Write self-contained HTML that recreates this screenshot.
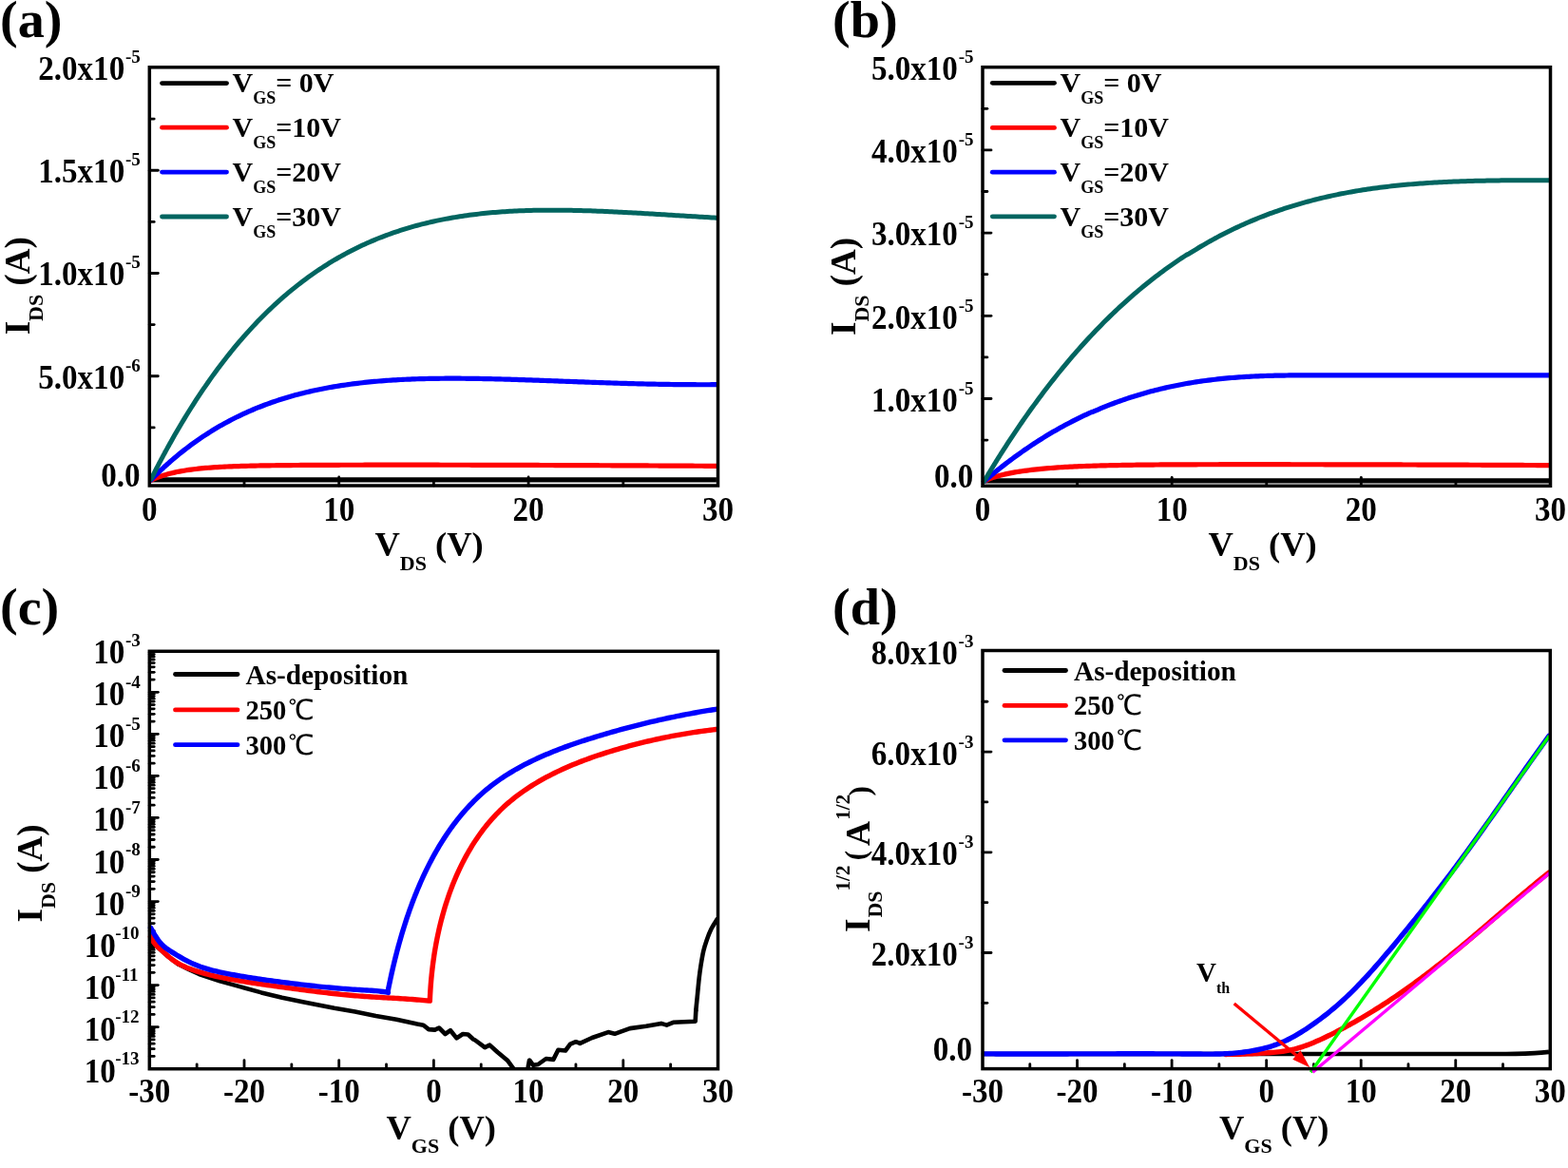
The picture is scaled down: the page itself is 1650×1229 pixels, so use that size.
<!DOCTYPE html>
<html><head><meta charset="utf-8"><title>TFT characteristics</title>
<style>html,body{margin:0;padding:0;background:#fff;overflow:hidden;}svg{display:block;}</style>
</head><body>
<svg width="1650" height="1229" viewBox="0 0 1650 1229" font-family='"Liberation Serif", "Times New Roman", serif' font-weight="bold">
<rect width="100%" height="100%" fill="#fff"/>
<text transform="translate(0 39) scale(1.04 1)" font-size="54" text-anchor="start">(a)</text>
<text transform="translate(876 39) scale(1.04 1)" font-size="54" text-anchor="start">(b)</text>
<text transform="translate(0 657) scale(1.04 1)" font-size="54" text-anchor="start">(c)</text>
<text transform="translate(876 657) scale(1.04 1)" font-size="54" text-anchor="start">(d)</text>
<line x1="356.7" y1="511" x2="356.7" y2="502" stroke="#000" stroke-width="2.8" stroke-linecap="round"/>
<line x1="556.1" y1="511" x2="556.1" y2="502" stroke="#000" stroke-width="2.8" stroke-linecap="round"/>
<line x1="257" y1="511" x2="257" y2="506.1" stroke="#000" stroke-width="2.8" stroke-linecap="round"/>
<line x1="456.4" y1="511" x2="456.4" y2="506.1" stroke="#000" stroke-width="2.8" stroke-linecap="round"/>
<line x1="655.8" y1="511" x2="655.8" y2="506.1" stroke="#000" stroke-width="2.8" stroke-linecap="round"/>
<line x1="157.3" y1="395.75" x2="166.3" y2="395.75" stroke="#000" stroke-width="2.8" stroke-linecap="round"/>
<line x1="157.3" y1="287.5" x2="166.3" y2="287.5" stroke="#000" stroke-width="2.8" stroke-linecap="round"/>
<line x1="157.3" y1="179.25" x2="166.3" y2="179.25" stroke="#000" stroke-width="2.8" stroke-linecap="round"/>
<line x1="157.3" y1="449.88" x2="162.2" y2="449.88" stroke="#000" stroke-width="2.8" stroke-linecap="round"/>
<line x1="157.3" y1="341.62" x2="162.2" y2="341.62" stroke="#000" stroke-width="2.8" stroke-linecap="round"/>
<line x1="157.3" y1="233.38" x2="162.2" y2="233.38" stroke="#000" stroke-width="2.8" stroke-linecap="round"/>
<line x1="157.3" y1="125.12" x2="162.2" y2="125.12" stroke="#000" stroke-width="2.8" stroke-linecap="round"/>
<text transform="translate(157.3 547.6) scale(0.94 1)" font-size="35.2" text-anchor="middle">0</text>
<text transform="translate(356.7 547.6) scale(0.94 1)" font-size="35.2" text-anchor="middle">10</text>
<text transform="translate(556.1 547.6) scale(0.94 1)" font-size="35.2" text-anchor="middle">20</text>
<text transform="translate(755.5 547.6) scale(0.94 1)" font-size="35.2" text-anchor="middle">30</text>
<text transform="translate(131.2 83.5) scale(0.94 1)" font-size="35.2" text-anchor="end">2.0x10</text>
<text x="132" y="65.5" font-size="19" text-anchor="start">-5</text>
<text transform="translate(131.2 191.5) scale(0.94 1)" font-size="35.2" text-anchor="end">1.5x10</text>
<text x="132" y="173.5" font-size="19" text-anchor="start">-5</text>
<text transform="translate(131.2 299.7) scale(0.94 1)" font-size="35.2" text-anchor="end">1.0x10</text>
<text x="132" y="281.7" font-size="19" text-anchor="start">-5</text>
<text transform="translate(131.2 408.5) scale(0.94 1)" font-size="35.2" text-anchor="end">5.0x10</text>
<text x="132" y="390.5" font-size="19" text-anchor="start">-6</text>
<text transform="translate(147.6 512.2) scale(0.94 1)" font-size="35.2" text-anchor="end">0.0</text>
<text x="394.5" y="585.2" font-size="36.5">V<tspan font-size="22" dy="15">DS</tspan><tspan dy="-15"> (V)</tspan></text>
<text transform="translate(30.8 352.3) rotate(-90)" font-size="37">I<tspan font-size="22" dy="14">DS</tspan><tspan dy="-14"> (A)</tspan></text>
<path d="M158.8 504.9L753.9 504.9" fill="none" stroke="#000" stroke-width="5.2" stroke-linejoin="round" stroke-linecap="butt"/>
<path d="M158.8 505.3L159.8 504.84L160.8 504.4L161.3 504.18L161.8 503.97L162.8 503.55L163.8 503.15L163.8 503.15L164.8 502.75L165.8 502.37L166.3 502.18L166.8 502L167.8 501.64L168.8 501.29L168.8 501.29L169.8 500.95L170.8 500.62L171.3 500.46L171.8 500.3L172.8 499.99L173.8 499.69L173.8 499.69L174.8 499.4L175.8 499.11L176.3 498.97L176.8 498.84L177.8 498.57L178.8 498.31L178.8 498.31L181.3 497.69L183.8 497.12L186.3 496.58L188.81 496.09L191.31 495.63L193.81 495.2L196.31 494.8L198.81 494.43L201.31 494.08L203.81 493.76L206.31 493.47L208.81 493.19L211.31 492.93L213.81 492.69L216.31 492.46L218.81 492.26L221.31 492.06L223.81 491.88L226.31 491.71L228.81 491.55L231.31 491.4L233.81 491.27L236.31 491.14L238.81 491.02L241.31 490.91L243.81 490.8L246.31 490.71L248.82 490.61L251.32 490.53L253.82 490.45L256.32 490.37L258.82 490.3L261.32 490.24L263.82 490.18L266.32 490.12L268.82 490.06L271.32 490.01L273.82 489.96L276.32 489.92L278.82 489.88L281.32 489.84L283.82 489.8L286.32 489.76L288.82 489.73L291.32 489.7L293.82 489.67L296.32 489.64L298.82 489.61L301.32 489.59L303.82 489.57L306.32 489.54L308.83 489.52L311.33 489.5L313.83 489.48L316.33 489.47L318.83 489.45L321.33 489.43L323.83 489.42L326.33 489.4L328.83 489.39L331.33 489.38L333.83 489.36L336.33 489.35L338.83 489.34L341.33 489.33L343.83 489.32L346.33 489.31L348.83 489.3L351.33 489.3L353.83 489.29L356.33 489.28L358.83 489.27L361.33 489.27L363.83 489.26L366.33 489.25L368.84 489.25L371.34 489.24L373.84 489.24L376.34 489.23L378.84 489.23L381.34 489.23L383.84 489.22L386.34 489.22L388.84 489.22L391.34 489.21L393.84 489.21L396.34 489.21L398.84 489.21L401.34 489.2L403.84 489.2L406.34 489.2L408.84 489.2L411.34 489.2L413.84 489.2L416.34 489.2L418.84 489.2L421.34 489.2L423.84 489.2L426.34 489.2L428.85 489.2L431.35 489.2L433.85 489.2L436.35 489.2L438.85 489.2L441.35 489.2L443.85 489.21L446.35 489.21L448.85 489.21L451.35 489.21L453.85 489.21L456.35 489.22L458.85 489.22L461.35 489.22L463.85 489.23L466.35 489.23L468.85 489.23L471.35 489.24L473.85 489.24L476.35 489.24L478.85 489.25L481.35 489.25L483.85 489.26L486.36 489.26L488.86 489.26L491.36 489.27L493.86 489.27L496.36 489.28L498.86 489.28L501.36 489.29L503.86 489.29L506.36 489.3L508.86 489.31L511.36 489.31L513.86 489.32L516.36 489.32L518.86 489.33L521.36 489.34L523.86 489.34L526.36 489.35L528.86 489.36L531.36 489.36L533.86 489.37L536.36 489.38L538.86 489.38L541.36 489.39L543.86 489.4L546.37 489.41L548.87 489.41L551.37 489.42L553.87 489.43L556.37 489.44L558.87 489.45L561.37 489.45L563.87 489.46L566.37 489.47L568.87 489.48L571.37 489.49L573.87 489.5L576.37 489.51L578.87 489.52L581.37 489.52L583.87 489.53L586.37 489.54L588.87 489.55L591.37 489.56L593.87 489.57L596.37 489.58L598.87 489.59L601.37 489.6L603.87 489.61L606.38 489.62L608.88 489.63L611.38 489.64L613.88 489.65L616.38 489.66L618.88 489.67L621.38 489.68L623.88 489.69L626.38 489.71L628.88 489.72L631.38 489.73L633.88 489.74L636.38 489.75L638.88 489.76L641.38 489.77L643.88 489.78L646.38 489.8L648.88 489.81L651.38 489.82L653.88 489.83L656.38 489.84L658.88 489.85L661.38 489.87L663.88 489.88L666.39 489.89L668.89 489.9L671.39 489.91L673.89 489.93L676.39 489.94L678.89 489.95L681.39 489.96L683.89 489.98L686.39 489.99L688.89 490L691.39 490.01L693.89 490.03L696.39 490.04L698.89 490.05L701.39 490.07L703.89 490.08L706.39 490.09L708.89 490.11L711.39 490.12L713.89 490.13L716.39 490.15L718.89 490.16L721.39 490.17L723.89 490.19L726.4 490.2L728.9 490.21L731.4 490.23L733.9 490.24L736.4 490.25L738.9 490.27L741.4 490.28L743.9 490.29L746.4 490.31L748.9 490.32L751.4 490.34L753.9 490.35" fill="none" stroke="#ff0000" stroke-width="5.2" stroke-linejoin="round" stroke-linecap="round"/>
<path d="M158.8 505L159.8 503.98L160.8 502.98L161.3 502.47L161.8 501.97L162.8 500.98L163.8 499.99L163.8 499.99L164.8 499.02L165.8 498.04L166.3 497.56L166.8 497.08L167.8 496.12L168.8 495.17L168.8 495.17L169.8 494.23L170.8 493.29L171.3 492.83L171.8 492.37L172.8 491.44L173.8 490.53L173.8 490.53L174.8 489.62L175.8 488.72L176.3 488.27L176.8 487.83L177.8 486.94L178.8 486.06L178.8 486.06L181.3 483.88L183.8 481.75L186.3 479.66L188.81 477.61L191.31 475.6L193.81 473.63L196.31 471.7L198.81 469.81L201.31 467.95L203.81 466.13L206.31 464.34L208.81 462.59L211.31 460.88L213.81 459.2L216.31 457.55L218.81 455.94L221.31 454.36L223.81 452.81L226.31 451.3L228.81 449.82L231.31 448.36L233.81 446.94L236.31 445.55L238.81 444.18L241.31 442.85L243.81 441.55L246.31 440.27L248.82 439.02L251.32 437.8L253.82 436.6L256.32 435.43L258.82 434.29L261.32 433.17L263.82 432.08L266.32 431.01L268.82 429.97L271.32 428.95L273.82 427.96L276.32 426.98L278.82 426.04L281.32 425.11L283.82 424.2L286.32 423.32L288.82 422.46L291.32 421.62L293.82 420.8L296.32 420L298.82 419.22L301.32 418.46L303.82 417.72L306.32 417L308.83 416.29L311.33 415.61L313.83 414.94L316.33 414.29L318.83 413.66L321.33 413.05L323.83 412.45L326.33 411.87L328.83 411.3L331.33 410.75L333.83 410.22L336.33 409.7L338.83 409.2L341.33 408.71L343.83 408.24L346.33 407.78L348.83 407.33L351.33 406.9L353.83 406.49L356.33 406.08L358.83 405.69L361.33 405.31L363.83 404.95L366.33 404.59L368.84 404.25L371.34 403.92L373.84 403.61L376.34 403.3L378.84 403.01L381.34 402.72L383.84 402.45L386.34 402.19L388.84 401.93L391.34 401.69L393.84 401.46L396.34 401.24L398.84 401.02L401.34 400.82L403.84 400.63L406.34 400.44L408.84 400.27L411.34 400.1L413.84 399.94L416.34 399.79L418.84 399.64L421.34 399.51L423.84 399.38L426.34 399.26L428.85 399.15L431.35 399.04L433.85 398.94L436.35 398.85L438.85 398.77L441.35 398.69L443.85 398.62L446.35 398.55L448.85 398.49L451.35 398.44L453.85 398.39L456.35 398.35L458.85 398.31L461.35 398.28L463.85 398.26L466.35 398.24L468.85 398.22L471.35 398.21L473.85 398.2L476.35 398.2L478.85 398.21L481.35 398.21L483.85 398.22L486.36 398.24L488.86 398.26L491.36 398.28L493.86 398.31L496.36 398.34L498.86 398.37L501.36 398.41L503.86 398.45L506.36 398.49L508.86 398.54L511.36 398.59L513.86 398.64L516.36 398.7L518.86 398.76L521.36 398.82L523.86 398.88L526.36 398.94L528.86 399.01L531.36 399.08L533.86 399.15L536.36 399.22L538.86 399.3L541.36 399.37L543.86 399.45L546.37 399.53L548.87 399.61L551.37 399.7L553.87 399.78L556.37 399.86L558.87 399.95L561.37 400.04L563.87 400.12L566.37 400.21L568.87 400.3L571.37 400.39L573.87 400.48L576.37 400.58L578.87 400.67L581.37 400.76L583.87 400.85L586.37 400.95L588.87 401.04L591.37 401.13L593.87 401.23L596.37 401.32L598.87 401.41L601.37 401.5L603.87 401.6L606.38 401.69L608.88 401.78L611.38 401.87L613.88 401.96L616.38 402.06L618.88 402.15L621.38 402.23L623.88 402.32L626.38 402.41L628.88 402.5L631.38 402.58L633.88 402.67L636.38 402.75L638.88 402.84L641.38 402.92L643.88 403L646.38 403.08L648.88 403.16L651.38 403.23L653.88 403.31L656.38 403.38L658.88 403.46L661.38 403.53L663.88 403.6L666.39 403.67L668.89 403.73L671.39 403.8L673.89 403.86L676.39 403.92L678.89 403.98L681.39 404.04L683.89 404.09L686.39 404.15L688.89 404.2L691.39 404.25L693.89 404.29L696.39 404.34L698.89 404.38L701.39 404.42L703.89 404.46L706.39 404.5L708.89 404.53L711.39 404.56L713.89 404.59L716.39 404.62L718.89 404.64L721.39 404.66L723.89 404.68L726.4 404.7L728.9 404.71L731.4 404.72L733.9 404.73L736.4 404.74L738.9 404.74L741.4 404.74L743.9 404.74L746.4 404.73L748.9 404.72L751.4 404.71L753.9 404.7" fill="none" stroke="#0000ff" stroke-width="5.2" stroke-linejoin="round" stroke-linecap="round"/>
<path d="M158.8 504.5L159.8 502.51L160.8 500.53L161.3 499.54L161.8 498.56L162.8 496.6L163.8 494.65L163.8 494.65L164.8 492.72L165.8 490.79L166.3 489.83L166.8 488.87L167.8 486.96L168.8 485.07L168.8 485.07L169.8 483.18L170.8 481.31L171.3 480.37L171.8 479.44L172.8 477.58L173.8 475.74L173.8 475.73L174.8 473.9L175.8 472.08L176.3 471.16L176.8 470.26L177.8 468.46L178.8 466.66L178.8 466.65L181.3 462.21L183.8 457.82L186.3 453.49L188.81 449.23L191.31 445.02L193.81 440.87L196.31 436.78L198.81 432.74L201.31 428.77L203.81 424.84L206.31 420.98L208.81 417.17L211.31 413.41L213.81 409.7L216.31 406.05L218.81 402.45L221.31 398.91L223.81 395.41L226.31 391.97L228.81 388.58L231.31 385.23L233.81 381.94L236.31 378.69L238.81 375.5L241.31 372.35L243.81 369.24L246.31 366.19L248.82 363.18L251.32 360.21L253.82 357.3L256.32 354.42L258.82 351.59L261.32 348.81L263.82 346.07L266.32 343.37L268.82 340.71L271.32 338.09L273.82 335.52L276.32 332.99L278.82 330.49L281.32 328.04L283.82 325.63L286.32 323.26L288.82 320.92L291.32 318.63L293.82 316.37L296.32 314.15L298.82 311.96L301.32 309.82L303.82 307.7L306.32 305.63L308.83 303.59L311.33 301.58L313.83 299.61L316.33 297.68L318.83 295.78L321.33 293.91L323.83 292.07L326.33 290.27L328.83 288.5L331.33 286.76L333.83 285.05L336.33 283.37L338.83 281.73L341.33 280.11L343.83 278.53L346.33 276.97L348.83 275.45L351.33 273.95L353.83 272.48L356.33 271.04L358.83 269.63L361.33 268.24L363.83 266.88L366.33 265.55L368.84 264.25L371.34 262.97L373.84 261.72L376.34 260.49L378.84 259.29L381.34 258.11L383.84 256.96L386.34 255.83L388.84 254.73L391.34 253.65L393.84 252.6L396.34 251.56L398.84 250.55L401.34 249.56L403.84 248.6L406.34 247.66L408.84 246.73L411.34 245.83L413.84 244.95L416.34 244.09L418.84 243.26L421.34 242.44L423.84 241.64L426.34 240.86L428.85 240.1L431.35 239.36L433.85 238.64L436.35 237.94L438.85 237.26L441.35 236.59L443.85 235.94L446.35 235.31L448.85 234.7L451.35 234.1L453.85 233.52L456.35 232.96L458.85 232.41L461.35 231.88L463.85 231.37L466.35 230.87L468.85 230.39L471.35 229.92L473.85 229.47L476.35 229.03L478.85 228.61L481.35 228.2L483.85 227.8L486.36 227.42L488.86 227.05L491.36 226.7L493.86 226.35L496.36 226.02L498.86 225.71L501.36 225.41L503.86 225.11L506.36 224.84L508.86 224.57L511.36 224.31L513.86 224.07L516.36 223.84L518.86 223.61L521.36 223.4L523.86 223.2L526.36 223.01L528.86 222.84L531.36 222.67L533.86 222.51L536.36 222.36L538.86 222.22L541.36 222.09L543.86 221.97L546.37 221.86L548.87 221.75L551.37 221.66L553.87 221.57L556.37 221.49L558.87 221.43L561.37 221.36L563.87 221.31L566.37 221.26L568.87 221.23L571.37 221.19L573.87 221.17L576.37 221.15L578.87 221.14L581.37 221.14L583.87 221.14L586.37 221.15L588.87 221.17L591.37 221.19L593.87 221.22L596.37 221.25L598.87 221.29L601.37 221.33L603.87 221.38L606.38 221.44L608.88 221.5L611.38 221.56L613.88 221.63L616.38 221.71L618.88 221.79L621.38 221.87L623.88 221.96L626.38 222.05L628.88 222.14L631.38 222.24L633.88 222.34L636.38 222.45L638.88 222.56L641.38 222.67L643.88 222.79L646.38 222.9L648.88 223.03L651.38 223.15L653.88 223.28L656.38 223.41L658.88 223.54L661.38 223.67L663.88 223.81L666.39 223.94L668.89 224.08L671.39 224.23L673.89 224.37L676.39 224.51L678.89 224.66L681.39 224.81L683.89 224.96L686.39 225.11L688.89 225.26L691.39 225.41L693.89 225.56L696.39 225.72L698.89 225.87L701.39 226.02L703.89 226.18L706.39 226.33L708.89 226.49L711.39 226.64L713.89 226.8L716.39 226.95L718.89 227.11L721.39 227.26L723.89 227.41L726.4 227.57L728.9 227.72L731.4 227.87L733.9 228.02L736.4 228.17L738.9 228.32L741.4 228.47L743.9 228.61L746.4 228.76L748.9 228.9L751.4 229.05L753.9 229.19" fill="none" stroke="#016560" stroke-width="5" stroke-linejoin="round" stroke-linecap="round"/>
<line x1="170.5" y1="87.6" x2="238.5" y2="87.6" stroke="#000" stroke-width="4.8" stroke-linecap="round"/>
<text x="244.5" y="97.3" font-size="30">V<tspan font-size="18" dy="12">GS</tspan><tspan dy="-12">= 0V</tspan></text>
<line x1="170.5" y1="134.2" x2="238.5" y2="134.2" stroke="#ff0000" stroke-width="4.8" stroke-linecap="round"/>
<text x="244.5" y="143.9" font-size="30">V<tspan font-size="18" dy="12">GS</tspan><tspan dy="-12">=10V</tspan></text>
<line x1="170.5" y1="181.1" x2="238.5" y2="181.1" stroke="#0000ff" stroke-width="4.8" stroke-linecap="round"/>
<text x="244.5" y="190.8" font-size="30">V<tspan font-size="18" dy="12">GS</tspan><tspan dy="-12">=20V</tspan></text>
<line x1="170.5" y1="228" x2="238.5" y2="228" stroke="#016560" stroke-width="4.8" stroke-linecap="round"/>
<text x="244.5" y="237.7" font-size="30">V<tspan font-size="18" dy="12">GS</tspan><tspan dy="-12">=30V</tspan></text>
<rect x="157.3" y="70.8" width="598.2" height="440.2" fill="none" stroke="#000" stroke-width="3.5"/>
<line x1="1233.17" y1="511.3" x2="1233.17" y2="502.3" stroke="#000" stroke-width="2.8" stroke-linecap="round"/>
<line x1="1432.33" y1="511.3" x2="1432.33" y2="502.3" stroke="#000" stroke-width="2.8" stroke-linecap="round"/>
<line x1="1133.58" y1="511.3" x2="1133.58" y2="506.4" stroke="#000" stroke-width="2.8" stroke-linecap="round"/>
<line x1="1332.75" y1="511.3" x2="1332.75" y2="506.4" stroke="#000" stroke-width="2.8" stroke-linecap="round"/>
<line x1="1531.92" y1="511.3" x2="1531.92" y2="506.4" stroke="#000" stroke-width="2.8" stroke-linecap="round"/>
<line x1="1034" y1="419.5" x2="1043" y2="419.5" stroke="#000" stroke-width="2.8" stroke-linecap="round"/>
<line x1="1034" y1="332.3" x2="1043" y2="332.3" stroke="#000" stroke-width="2.8" stroke-linecap="round"/>
<line x1="1034" y1="245.1" x2="1043" y2="245.1" stroke="#000" stroke-width="2.8" stroke-linecap="round"/>
<line x1="1034" y1="157.9" x2="1043" y2="157.9" stroke="#000" stroke-width="2.8" stroke-linecap="round"/>
<line x1="1034" y1="463.1" x2="1038.9" y2="463.1" stroke="#000" stroke-width="2.8" stroke-linecap="round"/>
<line x1="1034" y1="375.9" x2="1038.9" y2="375.9" stroke="#000" stroke-width="2.8" stroke-linecap="round"/>
<line x1="1034" y1="288.7" x2="1038.9" y2="288.7" stroke="#000" stroke-width="2.8" stroke-linecap="round"/>
<line x1="1034" y1="201.5" x2="1038.9" y2="201.5" stroke="#000" stroke-width="2.8" stroke-linecap="round"/>
<line x1="1034" y1="114.3" x2="1038.9" y2="114.3" stroke="#000" stroke-width="2.8" stroke-linecap="round"/>
<text transform="translate(1034 547.6) scale(0.94 1)" font-size="35.2" text-anchor="middle">0</text>
<text transform="translate(1233.17 547.6) scale(0.94 1)" font-size="35.2" text-anchor="middle">10</text>
<text transform="translate(1432.33 547.6) scale(0.94 1)" font-size="35.2" text-anchor="middle">20</text>
<text transform="translate(1631.5 547.6) scale(0.94 1)" font-size="35.2" text-anchor="middle">30</text>
<text transform="translate(1007.9 83.9) scale(0.94 1)" font-size="35.2" text-anchor="end">5.0x10</text>
<text x="1008.7" y="65.9" font-size="19" text-anchor="start">-5</text>
<text transform="translate(1007.9 171.1) scale(0.94 1)" font-size="35.2" text-anchor="end">4.0x10</text>
<text x="1008.7" y="153.1" font-size="19" text-anchor="start">-5</text>
<text transform="translate(1007.9 258.3) scale(0.94 1)" font-size="35.2" text-anchor="end">3.0x10</text>
<text x="1008.7" y="240.3" font-size="19" text-anchor="start">-5</text>
<text transform="translate(1007.9 345.5) scale(0.94 1)" font-size="35.2" text-anchor="end">2.0x10</text>
<text x="1008.7" y="327.5" font-size="19" text-anchor="start">-5</text>
<text transform="translate(1007.9 432.7) scale(0.94 1)" font-size="35.2" text-anchor="end">1.0x10</text>
<text x="1008.7" y="414.7" font-size="19" text-anchor="start">-5</text>
<text transform="translate(1024.3 512.6) scale(0.94 1)" font-size="35.2" text-anchor="end">0.0</text>
<text x="1271.5" y="585.2" font-size="36.5">V<tspan font-size="22" dy="15">DS</tspan><tspan dy="-15"> (V)</tspan></text>
<text transform="translate(900.3 353) rotate(-90)" font-size="37">I<tspan font-size="22" dy="14">DS</tspan><tspan dy="-14"> (A)</tspan></text>
<path d="M1035.5 505.9L1630 505.9" fill="none" stroke="#000" stroke-width="5.2" stroke-linejoin="round" stroke-linecap="butt"/>
<path d="M1035.5 506.5L1036.5 505.98L1037.5 505.48L1038.01 505.24L1038.5 505.01L1039.5 504.57L1040.5 504.14L1040.52 504.14L1041.5 503.74L1042.5 503.35L1043.03 503.16L1043.5 502.98L1044.5 502.63L1045.5 502.29L1045.53 502.28L1046.5 501.96L1047.5 501.65L1048.04 501.48L1048.5 501.34L1049.5 501.05L1050.5 500.77L1050.55 500.75L1051.5 500.49L1052.5 500.23L1053.06 500.08L1053.5 499.97L1054.5 499.72L1055.5 499.48L1055.57 499.47L1058.08 498.89L1060.58 498.35L1063.09 497.85L1065.6 497.38L1068.11 496.93L1070.62 496.51L1073.13 496.12L1075.64 495.74L1078.14 495.39L1080.65 495.05L1083.16 494.73L1085.67 494.42L1088.18 494.14L1090.69 493.86L1093.19 493.6L1095.7 493.36L1098.21 493.12L1100.72 492.9L1103.23 492.69L1105.74 492.48L1108.24 492.29L1110.75 492.11L1113.26 491.94L1115.77 491.77L1118.28 491.62L1120.79 491.47L1123.3 491.33L1125.8 491.19L1128.31 491.06L1130.82 490.94L1133.33 490.83L1135.84 490.72L1138.35 490.61L1140.85 490.51L1143.36 490.42L1145.87 490.33L1148.38 490.24L1150.89 490.16L1153.4 490.08L1155.91 490.01L1158.41 489.94L1160.92 489.87L1163.43 489.81L1165.94 489.75L1168.45 489.69L1170.96 489.64L1173.46 489.58L1175.97 489.53L1178.48 489.49L1180.99 489.44L1183.5 489.4L1186.01 489.36L1188.51 489.32L1191.02 489.29L1193.53 489.25L1196.04 489.22L1198.55 489.19L1201.06 489.16L1203.57 489.13L1206.07 489.1L1208.58 489.08L1211.09 489.05L1213.6 489.03L1216.11 489.01L1218.62 488.99L1221.12 488.97L1223.63 488.95L1226.14 488.93L1228.65 488.92L1231.16 488.9L1233.67 488.89L1236.18 488.87L1238.68 488.86L1241.19 488.85L1243.7 488.84L1246.21 488.83L1248.72 488.81L1251.23 488.8L1253.73 488.8L1256.24 488.79L1258.75 488.78L1261.26 488.77L1263.77 488.76L1266.28 488.76L1268.78 488.75L1271.29 488.75L1273.8 488.74L1276.31 488.74L1278.82 488.73L1281.33 488.73L1283.84 488.72L1286.34 488.72L1288.85 488.72L1291.36 488.71L1293.87 488.71L1296.38 488.71L1298.89 488.71L1301.39 488.71L1303.9 488.7L1306.41 488.7L1308.92 488.7L1311.43 488.7L1313.94 488.7L1316.45 488.7L1318.95 488.7L1321.46 488.7L1323.97 488.7L1326.48 488.7L1328.99 488.7L1331.5 488.7L1334 488.7L1336.51 488.71L1339.02 488.71L1341.53 488.71L1344.04 488.71L1346.55 488.71L1349.05 488.72L1351.56 488.72L1354.07 488.72L1356.58 488.72L1359.09 488.73L1361.6 488.73L1364.11 488.73L1366.61 488.73L1369.12 488.74L1371.63 488.74L1374.14 488.74L1376.65 488.75L1379.16 488.75L1381.66 488.76L1384.17 488.76L1386.68 488.76L1389.19 488.77L1391.7 488.77L1394.21 488.78L1396.72 488.78L1399.22 488.79L1401.73 488.79L1404.24 488.8L1406.75 488.8L1409.26 488.81L1411.77 488.81L1414.27 488.82L1416.78 488.82L1419.29 488.83L1421.8 488.83L1424.31 488.84L1426.82 488.84L1429.32 488.85L1431.83 488.86L1434.34 488.86L1436.85 488.87L1439.36 488.88L1441.87 488.88L1444.38 488.89L1446.88 488.89L1449.39 488.9L1451.9 488.91L1454.41 488.91L1456.92 488.92L1459.43 488.93L1461.93 488.94L1464.44 488.94L1466.95 488.95L1469.46 488.96L1471.97 488.96L1474.48 488.97L1476.99 488.98L1479.49 488.99L1482 488.99L1484.51 489L1487.02 489.01L1489.53 489.02L1492.04 489.03L1494.54 489.03L1497.05 489.04L1499.56 489.05L1502.07 489.06L1504.58 489.07L1507.09 489.08L1509.59 489.09L1512.1 489.09L1514.61 489.1L1517.12 489.11L1519.63 489.12L1522.14 489.13L1524.65 489.14L1527.15 489.15L1529.66 489.16L1532.17 489.17L1534.68 489.18L1537.19 489.19L1539.7 489.2L1542.2 489.21L1544.71 489.22L1547.22 489.23L1549.73 489.24L1552.24 489.25L1554.75 489.26L1557.26 489.27L1559.76 489.28L1562.27 489.29L1564.78 489.3L1567.29 489.31L1569.8 489.32L1572.31 489.33L1574.81 489.34L1577.32 489.35L1579.83 489.36L1582.34 489.37L1584.85 489.38L1587.36 489.4L1589.86 489.41L1592.37 489.42L1594.88 489.43L1597.39 489.44L1599.9 489.45L1602.41 489.46L1604.92 489.48L1607.42 489.49L1609.93 489.5L1612.44 489.51L1614.95 489.52L1617.46 489.54L1619.97 489.55L1622.47 489.56L1624.98 489.57L1627.49 489.59L1630 489.6" fill="none" stroke="#ff0000" stroke-width="5.2" stroke-linejoin="round" stroke-linecap="round"/>
<path d="M1035.5 506.5L1036.5 505.64L1037.5 504.79L1038.01 504.36L1038.5 503.94L1039.5 503.1L1040.5 502.26L1040.52 502.24L1041.5 501.42L1042.5 500.59L1043.03 500.15L1043.5 499.76L1044.5 498.94L1045.5 498.12L1045.53 498.09L1046.5 497.3L1047.5 496.49L1048.04 496.05L1048.5 495.68L1049.5 494.88L1050.5 494.08L1050.55 494.04L1051.5 493.28L1052.5 492.49L1053.06 492.05L1053.5 491.7L1054.5 490.92L1055.5 490.14L1055.57 490.08L1058.08 488.14L1060.58 486.23L1063.09 484.34L1065.6 482.47L1068.11 480.63L1070.62 478.81L1073.13 477.02L1075.64 475.25L1078.14 473.5L1080.65 471.78L1083.16 470.08L1085.67 468.41L1088.18 466.75L1090.69 465.12L1093.19 463.52L1095.7 461.94L1098.21 460.38L1100.72 458.84L1103.23 457.32L1105.74 455.83L1108.24 454.36L1110.75 452.91L1113.26 451.48L1115.77 450.08L1118.28 448.7L1120.79 447.33L1123.3 445.99L1125.8 444.68L1128.31 443.38L1130.82 442.1L1133.33 440.85L1135.84 439.61L1138.35 438.4L1140.85 437.21L1143.36 436.03L1145.87 434.88L1148.38 433.75L1150.89 432.95L1153.4 431.85L1155.91 430.78L1158.41 429.72L1160.92 428.69L1163.43 427.67L1165.94 426.67L1168.45 425.69L1170.96 424.73L1173.46 423.79L1175.97 422.87L1178.48 421.97L1180.99 421.08L1183.5 420.22L1186.01 419.37L1188.51 418.53L1191.02 417.72L1193.53 416.93L1196.04 416.15L1198.55 415.39L1201.06 414.64L1203.57 413.92L1206.07 413.21L1208.58 412.51L1211.09 411.83L1213.6 411.17L1216.11 410.53L1218.62 409.9L1221.12 409.29L1223.63 408.69L1226.14 408.11L1228.65 407.55L1231.16 407L1233.67 406.46L1236.18 405.94L1238.68 405.44L1241.19 404.94L1243.7 404.47L1246.21 404.01L1248.72 403.56L1251.23 403.12L1253.73 402.7L1256.24 402.3L1258.75 401.9L1261.26 401.52L1263.77 401.16L1266.28 400.8L1268.78 400.46L1271.29 400.13L1273.8 399.82L1276.31 399.51L1278.82 399.22L1281.33 398.94L1283.84 398.67L1286.34 398.42L1288.85 398.17L1291.36 397.93L1293.87 397.71L1296.38 397.5L1298.89 397.29L1301.39 397.1L1303.9 396.92L1306.41 396.74L1308.92 396.58L1311.43 396.43L1313.94 396.28L1316.45 396.14L1318.95 396.02L1321.46 395.9L1323.97 395.79L1326.48 395.68L1328.99 395.59L1331.5 395.5L1334 395.42L1336.51 395.35L1339.02 395.28L1341.53 395.22L1344.04 395.16L1346.55 395.11L1349.05 395.07L1351.56 395.03L1354.07 395L1356.58 394.97L1359.09 394.95L1361.6 394.92L1364.11 394.91L1366.61 394.89L1369.12 394.88L1371.63 394.87L1374.14 394.86L1376.65 394.86L1379.16 394.85L1381.66 394.85L1384.17 394.85L1386.68 394.85L1389.19 394.84L1391.7 394.84L1394.21 394.84L1396.72 394.84L1399.22 394.84L1401.73 394.84L1404.24 394.84L1406.75 394.84L1409.26 394.84L1411.77 394.84L1414.27 394.84L1416.78 394.84L1419.29 394.84L1421.8 394.84L1424.31 394.84L1426.82 394.84L1429.32 394.84L1431.83 394.84L1434.34 394.84L1436.85 394.84L1439.36 394.84L1441.87 394.84L1444.38 394.84L1446.88 394.84L1449.39 394.84L1451.9 394.84L1454.41 394.84L1456.92 394.84L1459.43 394.84L1461.93 394.84L1464.44 394.84L1466.95 394.84L1469.46 394.84L1471.97 394.84L1474.48 394.84L1476.99 394.84L1479.49 394.84L1482 394.84L1484.51 394.84L1487.02 394.84L1489.53 394.84L1492.04 394.84L1494.54 394.84L1497.05 394.84L1499.56 394.84L1502.07 394.84L1504.58 394.84L1507.09 394.84L1509.59 394.84L1512.1 394.84L1514.61 394.84L1517.12 394.84L1519.63 394.84L1522.14 394.84L1524.65 394.84L1527.15 394.84L1529.66 394.84L1532.17 394.84L1534.68 394.84L1537.19 394.84L1539.7 394.84L1542.2 394.84L1544.71 394.84L1547.22 394.84L1549.73 394.84L1552.24 394.84L1554.75 394.84L1557.26 394.84L1559.76 394.84L1562.27 394.84L1564.78 394.84L1567.29 394.84L1569.8 394.84L1572.31 394.84L1574.81 394.84L1577.32 394.84L1579.83 394.84L1582.34 394.84L1584.85 394.84L1587.36 394.84L1589.86 394.84L1592.37 394.84L1594.88 394.84L1597.39 394.84L1599.9 394.84L1602.41 394.84L1604.92 394.84L1607.42 394.84L1609.93 394.84L1612.44 394.84L1614.95 394.84L1617.46 394.84L1619.97 394.84L1622.47 394.84L1624.98 394.84L1627.49 394.84L1630 394.84" fill="none" stroke="#0000ff" stroke-width="5.2" stroke-linejoin="round" stroke-linecap="round"/>
<path d="M1035.5 506.5L1036.5 504.82L1037.5 503.15L1038.01 502.3L1038.5 501.48L1039.5 499.82L1040.5 498.16L1040.52 498.13L1041.5 496.51L1042.5 494.87L1043.03 494.01L1043.5 493.23L1044.5 491.6L1045.5 489.98L1045.53 489.92L1046.5 488.36L1047.5 486.75L1048.04 485.87L1048.5 485.14L1049.5 483.54L1050.5 481.94L1050.55 481.86L1051.5 480.35L1052.5 478.77L1053.06 477.89L1053.5 477.19L1054.5 475.62L1055.5 474.06L1055.57 473.95L1058.08 470.05L1060.58 466.19L1063.09 462.37L1065.6 458.58L1068.11 454.83L1070.62 451.11L1073.13 447.43L1075.64 443.79L1078.14 440.18L1080.65 436.6L1083.16 433.07L1085.67 429.56L1088.18 426.1L1090.69 422.66L1093.19 419.27L1095.7 415.9L1098.21 412.57L1100.72 409.27L1103.23 406.01L1105.74 402.78L1108.24 399.59L1110.75 396.43L1113.26 393.3L1115.77 390.2L1118.28 387.14L1120.79 384.1L1123.3 381.1L1125.8 378.14L1128.31 375.2L1130.82 372.3L1133.33 369.43L1135.84 366.58L1138.35 363.77L1140.85 360.99L1143.36 358.25L1145.87 355.53L1148.38 352.84L1150.89 350.18L1153.4 347.56L1155.91 344.96L1158.41 342.39L1160.92 339.85L1163.43 337.34L1165.94 334.86L1168.45 332.41L1170.96 329.99L1173.46 327.59L1175.97 325.23L1178.48 322.89L1180.99 320.58L1183.5 318.3L1186.01 316.04L1188.51 313.81L1191.02 311.61L1193.53 309.44L1196.04 307.29L1198.55 305.17L1201.06 303.08L1203.57 301.01L1206.07 298.97L1208.58 296.96L1211.09 294.97L1213.6 293.01L1216.11 291.07L1218.62 289.15L1221.12 287.27L1223.63 285.4L1226.14 283.56L1228.65 281.75L1231.16 279.96L1233.67 278.19L1236.18 276.45L1238.68 274.73L1241.19 273.04L1243.7 271.37L1246.21 269.72L1248.72 268.1L1251.23 266.96L1253.73 265.37L1256.24 263.81L1258.75 262.27L1261.26 260.76L1263.77 259.26L1266.28 257.79L1268.78 256.34L1271.29 254.91L1273.8 253.5L1276.31 252.12L1278.82 250.75L1281.33 249.41L1283.84 248.08L1286.34 246.78L1288.85 245.49L1291.36 244.23L1293.87 242.99L1296.38 241.76L1298.89 240.56L1301.39 239.37L1303.9 238.21L1306.41 237.06L1308.92 235.93L1311.43 234.82L1313.94 233.73L1316.45 232.66L1318.95 231.6L1321.46 230.57L1323.97 229.55L1326.48 228.55L1328.99 227.56L1331.5 226.6L1334 225.65L1336.51 224.71L1339.02 223.8L1341.53 222.9L1344.04 222.02L1346.55 221.15L1349.05 220.3L1351.56 219.47L1354.07 218.65L1356.58 217.85L1359.09 217.06L1361.6 216.29L1364.11 215.53L1366.61 214.79L1369.12 214.06L1371.63 213.35L1374.14 212.65L1376.65 211.97L1379.16 211.3L1381.66 210.65L1384.17 210L1386.68 209.38L1389.19 208.76L1391.7 208.16L1394.21 207.57L1396.72 207L1399.22 206.44L1401.73 205.89L1404.24 205.35L1406.75 204.83L1409.26 204.32L1411.77 203.82L1414.27 203.33L1416.78 202.85L1419.29 202.39L1421.8 201.93L1424.31 201.49L1426.82 201.06L1429.32 200.64L1431.83 200.23L1434.34 199.83L1436.85 199.45L1439.36 199.07L1441.87 198.7L1444.38 198.34L1446.88 198L1449.39 197.66L1451.9 197.33L1454.41 197.01L1456.92 196.7L1459.43 196.4L1461.93 196.11L1464.44 195.83L1466.95 195.55L1469.46 195.29L1471.97 195.03L1474.48 194.78L1476.99 194.54L1479.49 194.31L1482 194.08L1484.51 193.87L1487.02 193.66L1489.53 193.45L1492.04 193.26L1494.54 193.07L1497.05 192.89L1499.56 192.71L1502.07 192.55L1504.58 192.38L1507.09 192.23L1509.59 192.08L1512.1 191.94L1514.61 191.8L1517.12 191.67L1519.63 191.54L1522.14 191.42L1524.65 191.31L1527.15 191.2L1529.66 191.09L1532.17 190.99L1534.68 190.9L1537.19 190.81L1539.7 190.73L1542.2 190.64L1544.71 190.57L1547.22 190.5L1549.73 190.43L1552.24 190.36L1554.75 190.3L1557.26 190.24L1559.76 190.19L1562.27 190.14L1564.78 190.09L1567.29 190.05L1569.8 190.01L1572.31 189.97L1574.81 189.94L1577.32 189.9L1579.83 189.87L1582.34 189.85L1584.85 189.82L1587.36 189.8L1589.86 189.78L1592.37 189.76L1594.88 189.74L1597.39 189.73L1599.9 189.71L1602.41 189.7L1604.92 189.69L1607.42 189.68L1609.93 189.67L1612.44 189.67L1614.95 189.66L1617.46 189.66L1619.97 189.65L1622.47 189.65L1624.98 189.64L1627.49 189.64L1630 189.64" fill="none" stroke="#016560" stroke-width="5" stroke-linejoin="round" stroke-linecap="round"/>
<line x1="1044.3" y1="87.3" x2="1109.5" y2="87.3" stroke="#000" stroke-width="4.8" stroke-linecap="round"/>
<text x="1115.5" y="97" font-size="30">V<tspan font-size="18" dy="12">GS</tspan><tspan dy="-12">= 0V</tspan></text>
<line x1="1044.3" y1="134.4" x2="1109.5" y2="134.4" stroke="#ff0000" stroke-width="4.8" stroke-linecap="round"/>
<text x="1115.5" y="144.1" font-size="30">V<tspan font-size="18" dy="12">GS</tspan><tspan dy="-12">=10V</tspan></text>
<line x1="1044.3" y1="181.2" x2="1109.5" y2="181.2" stroke="#0000ff" stroke-width="4.8" stroke-linecap="round"/>
<text x="1115.5" y="190.9" font-size="30">V<tspan font-size="18" dy="12">GS</tspan><tspan dy="-12">=20V</tspan></text>
<line x1="1044.3" y1="227.8" x2="1109.5" y2="227.8" stroke="#016560" stroke-width="4.8" stroke-linecap="round"/>
<text x="1115.5" y="237.5" font-size="30">V<tspan font-size="18" dy="12">GS</tspan><tspan dy="-12">=30V</tspan></text>
<rect x="1034" y="70.7" width="597.5" height="440.6" fill="none" stroke="#000" stroke-width="3.5"/>
<line x1="257" y1="1124.7" x2="257" y2="1115.7" stroke="#000" stroke-width="2.8" stroke-linecap="round"/>
<line x1="356.7" y1="1124.7" x2="356.7" y2="1115.7" stroke="#000" stroke-width="2.8" stroke-linecap="round"/>
<line x1="456.4" y1="1124.7" x2="456.4" y2="1115.7" stroke="#000" stroke-width="2.8" stroke-linecap="round"/>
<line x1="556.1" y1="1124.7" x2="556.1" y2="1115.7" stroke="#000" stroke-width="2.8" stroke-linecap="round"/>
<line x1="655.8" y1="1124.7" x2="655.8" y2="1115.7" stroke="#000" stroke-width="2.8" stroke-linecap="round"/>
<line x1="207.15" y1="1124.7" x2="207.15" y2="1119.8" stroke="#000" stroke-width="2.8" stroke-linecap="round"/>
<line x1="306.85" y1="1124.7" x2="306.85" y2="1119.8" stroke="#000" stroke-width="2.8" stroke-linecap="round"/>
<line x1="406.55" y1="1124.7" x2="406.55" y2="1119.8" stroke="#000" stroke-width="2.8" stroke-linecap="round"/>
<line x1="506.25" y1="1124.7" x2="506.25" y2="1119.8" stroke="#000" stroke-width="2.8" stroke-linecap="round"/>
<line x1="605.95" y1="1124.7" x2="605.95" y2="1119.8" stroke="#000" stroke-width="2.8" stroke-linecap="round"/>
<line x1="705.65" y1="1124.7" x2="705.65" y2="1119.8" stroke="#000" stroke-width="2.8" stroke-linecap="round"/>
<line x1="157.3" y1="1080.66" x2="166.3" y2="1080.66" stroke="#000" stroke-width="2.8" stroke-linecap="round"/>
<line x1="157.3" y1="1036.62" x2="166.3" y2="1036.62" stroke="#000" stroke-width="2.8" stroke-linecap="round"/>
<line x1="157.3" y1="992.58" x2="166.3" y2="992.58" stroke="#000" stroke-width="2.8" stroke-linecap="round"/>
<line x1="157.3" y1="948.54" x2="166.3" y2="948.54" stroke="#000" stroke-width="2.8" stroke-linecap="round"/>
<line x1="157.3" y1="904.5" x2="166.3" y2="904.5" stroke="#000" stroke-width="2.8" stroke-linecap="round"/>
<line x1="157.3" y1="860.46" x2="166.3" y2="860.46" stroke="#000" stroke-width="2.8" stroke-linecap="round"/>
<line x1="157.3" y1="816.42" x2="166.3" y2="816.42" stroke="#000" stroke-width="2.8" stroke-linecap="round"/>
<line x1="157.3" y1="772.38" x2="166.3" y2="772.38" stroke="#000" stroke-width="2.8" stroke-linecap="round"/>
<line x1="157.3" y1="728.34" x2="166.3" y2="728.34" stroke="#000" stroke-width="2.8" stroke-linecap="round"/>
<line x1="157.3" y1="1111.44" x2="162.2" y2="1111.44" stroke="#000" stroke-width="2.8" stroke-linecap="round"/>
<line x1="157.3" y1="1103.69" x2="162.2" y2="1103.69" stroke="#000" stroke-width="2.8" stroke-linecap="round"/>
<line x1="157.3" y1="1098.19" x2="162.2" y2="1098.19" stroke="#000" stroke-width="2.8" stroke-linecap="round"/>
<line x1="157.3" y1="1093.92" x2="162.2" y2="1093.92" stroke="#000" stroke-width="2.8" stroke-linecap="round"/>
<line x1="157.3" y1="1090.43" x2="162.2" y2="1090.43" stroke="#000" stroke-width="2.8" stroke-linecap="round"/>
<line x1="157.3" y1="1087.48" x2="162.2" y2="1087.48" stroke="#000" stroke-width="2.8" stroke-linecap="round"/>
<line x1="157.3" y1="1084.93" x2="162.2" y2="1084.93" stroke="#000" stroke-width="2.8" stroke-linecap="round"/>
<line x1="157.3" y1="1082.68" x2="162.2" y2="1082.68" stroke="#000" stroke-width="2.8" stroke-linecap="round"/>
<line x1="157.3" y1="1067.4" x2="162.2" y2="1067.4" stroke="#000" stroke-width="2.8" stroke-linecap="round"/>
<line x1="157.3" y1="1059.65" x2="162.2" y2="1059.65" stroke="#000" stroke-width="2.8" stroke-linecap="round"/>
<line x1="157.3" y1="1054.15" x2="162.2" y2="1054.15" stroke="#000" stroke-width="2.8" stroke-linecap="round"/>
<line x1="157.3" y1="1049.88" x2="162.2" y2="1049.88" stroke="#000" stroke-width="2.8" stroke-linecap="round"/>
<line x1="157.3" y1="1046.39" x2="162.2" y2="1046.39" stroke="#000" stroke-width="2.8" stroke-linecap="round"/>
<line x1="157.3" y1="1043.44" x2="162.2" y2="1043.44" stroke="#000" stroke-width="2.8" stroke-linecap="round"/>
<line x1="157.3" y1="1040.89" x2="162.2" y2="1040.89" stroke="#000" stroke-width="2.8" stroke-linecap="round"/>
<line x1="157.3" y1="1038.64" x2="162.2" y2="1038.64" stroke="#000" stroke-width="2.8" stroke-linecap="round"/>
<line x1="157.3" y1="1023.36" x2="162.2" y2="1023.36" stroke="#000" stroke-width="2.8" stroke-linecap="round"/>
<line x1="157.3" y1="1015.61" x2="162.2" y2="1015.61" stroke="#000" stroke-width="2.8" stroke-linecap="round"/>
<line x1="157.3" y1="1010.11" x2="162.2" y2="1010.11" stroke="#000" stroke-width="2.8" stroke-linecap="round"/>
<line x1="157.3" y1="1005.84" x2="162.2" y2="1005.84" stroke="#000" stroke-width="2.8" stroke-linecap="round"/>
<line x1="157.3" y1="1002.35" x2="162.2" y2="1002.35" stroke="#000" stroke-width="2.8" stroke-linecap="round"/>
<line x1="157.3" y1="999.4" x2="162.2" y2="999.4" stroke="#000" stroke-width="2.8" stroke-linecap="round"/>
<line x1="157.3" y1="996.85" x2="162.2" y2="996.85" stroke="#000" stroke-width="2.8" stroke-linecap="round"/>
<line x1="157.3" y1="994.6" x2="162.2" y2="994.6" stroke="#000" stroke-width="2.8" stroke-linecap="round"/>
<line x1="157.3" y1="979.32" x2="162.2" y2="979.32" stroke="#000" stroke-width="2.8" stroke-linecap="round"/>
<line x1="157.3" y1="971.57" x2="162.2" y2="971.57" stroke="#000" stroke-width="2.8" stroke-linecap="round"/>
<line x1="157.3" y1="966.07" x2="162.2" y2="966.07" stroke="#000" stroke-width="2.8" stroke-linecap="round"/>
<line x1="157.3" y1="961.8" x2="162.2" y2="961.8" stroke="#000" stroke-width="2.8" stroke-linecap="round"/>
<line x1="157.3" y1="958.31" x2="162.2" y2="958.31" stroke="#000" stroke-width="2.8" stroke-linecap="round"/>
<line x1="157.3" y1="955.36" x2="162.2" y2="955.36" stroke="#000" stroke-width="2.8" stroke-linecap="round"/>
<line x1="157.3" y1="952.81" x2="162.2" y2="952.81" stroke="#000" stroke-width="2.8" stroke-linecap="round"/>
<line x1="157.3" y1="950.56" x2="162.2" y2="950.56" stroke="#000" stroke-width="2.8" stroke-linecap="round"/>
<line x1="157.3" y1="935.28" x2="162.2" y2="935.28" stroke="#000" stroke-width="2.8" stroke-linecap="round"/>
<line x1="157.3" y1="927.53" x2="162.2" y2="927.53" stroke="#000" stroke-width="2.8" stroke-linecap="round"/>
<line x1="157.3" y1="922.03" x2="162.2" y2="922.03" stroke="#000" stroke-width="2.8" stroke-linecap="round"/>
<line x1="157.3" y1="917.76" x2="162.2" y2="917.76" stroke="#000" stroke-width="2.8" stroke-linecap="round"/>
<line x1="157.3" y1="914.27" x2="162.2" y2="914.27" stroke="#000" stroke-width="2.8" stroke-linecap="round"/>
<line x1="157.3" y1="911.32" x2="162.2" y2="911.32" stroke="#000" stroke-width="2.8" stroke-linecap="round"/>
<line x1="157.3" y1="908.77" x2="162.2" y2="908.77" stroke="#000" stroke-width="2.8" stroke-linecap="round"/>
<line x1="157.3" y1="906.52" x2="162.2" y2="906.52" stroke="#000" stroke-width="2.8" stroke-linecap="round"/>
<line x1="157.3" y1="891.24" x2="162.2" y2="891.24" stroke="#000" stroke-width="2.8" stroke-linecap="round"/>
<line x1="157.3" y1="883.49" x2="162.2" y2="883.49" stroke="#000" stroke-width="2.8" stroke-linecap="round"/>
<line x1="157.3" y1="877.99" x2="162.2" y2="877.99" stroke="#000" stroke-width="2.8" stroke-linecap="round"/>
<line x1="157.3" y1="873.72" x2="162.2" y2="873.72" stroke="#000" stroke-width="2.8" stroke-linecap="round"/>
<line x1="157.3" y1="870.23" x2="162.2" y2="870.23" stroke="#000" stroke-width="2.8" stroke-linecap="round"/>
<line x1="157.3" y1="867.28" x2="162.2" y2="867.28" stroke="#000" stroke-width="2.8" stroke-linecap="round"/>
<line x1="157.3" y1="864.73" x2="162.2" y2="864.73" stroke="#000" stroke-width="2.8" stroke-linecap="round"/>
<line x1="157.3" y1="862.48" x2="162.2" y2="862.48" stroke="#000" stroke-width="2.8" stroke-linecap="round"/>
<line x1="157.3" y1="847.2" x2="162.2" y2="847.2" stroke="#000" stroke-width="2.8" stroke-linecap="round"/>
<line x1="157.3" y1="839.45" x2="162.2" y2="839.45" stroke="#000" stroke-width="2.8" stroke-linecap="round"/>
<line x1="157.3" y1="833.95" x2="162.2" y2="833.95" stroke="#000" stroke-width="2.8" stroke-linecap="round"/>
<line x1="157.3" y1="829.68" x2="162.2" y2="829.68" stroke="#000" stroke-width="2.8" stroke-linecap="round"/>
<line x1="157.3" y1="826.19" x2="162.2" y2="826.19" stroke="#000" stroke-width="2.8" stroke-linecap="round"/>
<line x1="157.3" y1="823.24" x2="162.2" y2="823.24" stroke="#000" stroke-width="2.8" stroke-linecap="round"/>
<line x1="157.3" y1="820.69" x2="162.2" y2="820.69" stroke="#000" stroke-width="2.8" stroke-linecap="round"/>
<line x1="157.3" y1="818.44" x2="162.2" y2="818.44" stroke="#000" stroke-width="2.8" stroke-linecap="round"/>
<line x1="157.3" y1="803.16" x2="162.2" y2="803.16" stroke="#000" stroke-width="2.8" stroke-linecap="round"/>
<line x1="157.3" y1="795.41" x2="162.2" y2="795.41" stroke="#000" stroke-width="2.8" stroke-linecap="round"/>
<line x1="157.3" y1="789.91" x2="162.2" y2="789.91" stroke="#000" stroke-width="2.8" stroke-linecap="round"/>
<line x1="157.3" y1="785.64" x2="162.2" y2="785.64" stroke="#000" stroke-width="2.8" stroke-linecap="round"/>
<line x1="157.3" y1="782.15" x2="162.2" y2="782.15" stroke="#000" stroke-width="2.8" stroke-linecap="round"/>
<line x1="157.3" y1="779.2" x2="162.2" y2="779.2" stroke="#000" stroke-width="2.8" stroke-linecap="round"/>
<line x1="157.3" y1="776.65" x2="162.2" y2="776.65" stroke="#000" stroke-width="2.8" stroke-linecap="round"/>
<line x1="157.3" y1="774.4" x2="162.2" y2="774.4" stroke="#000" stroke-width="2.8" stroke-linecap="round"/>
<line x1="157.3" y1="759.12" x2="162.2" y2="759.12" stroke="#000" stroke-width="2.8" stroke-linecap="round"/>
<line x1="157.3" y1="751.37" x2="162.2" y2="751.37" stroke="#000" stroke-width="2.8" stroke-linecap="round"/>
<line x1="157.3" y1="745.87" x2="162.2" y2="745.87" stroke="#000" stroke-width="2.8" stroke-linecap="round"/>
<line x1="157.3" y1="741.6" x2="162.2" y2="741.6" stroke="#000" stroke-width="2.8" stroke-linecap="round"/>
<line x1="157.3" y1="738.11" x2="162.2" y2="738.11" stroke="#000" stroke-width="2.8" stroke-linecap="round"/>
<line x1="157.3" y1="735.16" x2="162.2" y2="735.16" stroke="#000" stroke-width="2.8" stroke-linecap="round"/>
<line x1="157.3" y1="732.61" x2="162.2" y2="732.61" stroke="#000" stroke-width="2.8" stroke-linecap="round"/>
<line x1="157.3" y1="730.36" x2="162.2" y2="730.36" stroke="#000" stroke-width="2.8" stroke-linecap="round"/>
<line x1="157.3" y1="715.08" x2="162.2" y2="715.08" stroke="#000" stroke-width="2.8" stroke-linecap="round"/>
<line x1="157.3" y1="707.33" x2="162.2" y2="707.33" stroke="#000" stroke-width="2.8" stroke-linecap="round"/>
<line x1="157.3" y1="701.83" x2="162.2" y2="701.83" stroke="#000" stroke-width="2.8" stroke-linecap="round"/>
<line x1="157.3" y1="697.56" x2="162.2" y2="697.56" stroke="#000" stroke-width="2.8" stroke-linecap="round"/>
<line x1="157.3" y1="694.07" x2="162.2" y2="694.07" stroke="#000" stroke-width="2.8" stroke-linecap="round"/>
<line x1="157.3" y1="691.12" x2="162.2" y2="691.12" stroke="#000" stroke-width="2.8" stroke-linecap="round"/>
<line x1="157.3" y1="688.57" x2="162.2" y2="688.57" stroke="#000" stroke-width="2.8" stroke-linecap="round"/>
<line x1="157.3" y1="686.32" x2="162.2" y2="686.32" stroke="#000" stroke-width="2.8" stroke-linecap="round"/>
<text transform="translate(157.3 1160.2) scale(0.94 1)" font-size="35.2" text-anchor="middle">-30</text>
<text transform="translate(257 1160.2) scale(0.94 1)" font-size="35.2" text-anchor="middle">-20</text>
<text transform="translate(356.7 1160.2) scale(0.94 1)" font-size="35.2" text-anchor="middle">-10</text>
<text transform="translate(456.4 1160.2) scale(0.94 1)" font-size="35.2" text-anchor="middle">0</text>
<text transform="translate(556.1 1160.2) scale(0.94 1)" font-size="35.2" text-anchor="middle">10</text>
<text transform="translate(655.8 1160.2) scale(0.94 1)" font-size="35.2" text-anchor="middle">20</text>
<text transform="translate(755.5 1160.2) scale(0.94 1)" font-size="35.2" text-anchor="middle">30</text>
<text transform="translate(131.4 698.3) scale(0.94 1)" font-size="35.2" text-anchor="end">10</text>
<text x="132" y="679.8" font-size="19" text-anchor="start">-3</text>
<text transform="translate(131.4 742.34) scale(0.94 1)" font-size="35.2" text-anchor="end">10</text>
<text x="132" y="723.84" font-size="19" text-anchor="start">-4</text>
<text transform="translate(131.4 786.38) scale(0.94 1)" font-size="35.2" text-anchor="end">10</text>
<text x="132" y="767.88" font-size="19" text-anchor="start">-5</text>
<text transform="translate(131.4 830.42) scale(0.94 1)" font-size="35.2" text-anchor="end">10</text>
<text x="132" y="811.92" font-size="19" text-anchor="start">-6</text>
<text transform="translate(131.4 874.46) scale(0.94 1)" font-size="35.2" text-anchor="end">10</text>
<text x="132" y="855.96" font-size="19" text-anchor="start">-7</text>
<text transform="translate(131.4 918.5) scale(0.94 1)" font-size="35.2" text-anchor="end">10</text>
<text x="132" y="900" font-size="19" text-anchor="start">-8</text>
<text transform="translate(131.4 962.54) scale(0.94 1)" font-size="35.2" text-anchor="end">10</text>
<text x="132" y="944.04" font-size="19" text-anchor="start">-9</text>
<text transform="translate(121.8 1006.58) scale(0.94 1)" font-size="35.2" text-anchor="end">10</text>
<text x="121.2" y="988.08" font-size="19" text-anchor="start">-10</text>
<text transform="translate(121.8 1050.62) scale(0.94 1)" font-size="35.2" text-anchor="end">10</text>
<text x="121.2" y="1032.12" font-size="19" text-anchor="start">-11</text>
<text transform="translate(121.8 1094.66) scale(0.94 1)" font-size="35.2" text-anchor="end">10</text>
<text x="121.2" y="1076.16" font-size="19" text-anchor="start">-12</text>
<text transform="translate(121.8 1138.7) scale(0.94 1)" font-size="35.2" text-anchor="end">10</text>
<text x="121.2" y="1120.2" font-size="19" text-anchor="start">-13</text>
<text x="406.5" y="1198.8" font-size="36.5">V<tspan font-size="22" dy="14">GS</tspan><tspan dy="-14"> (V)</tspan></text>
<text transform="translate(43.8 970.5) rotate(-90)" font-size="37">I<tspan font-size="22" dy="14">DS</tspan><tspan dy="-14"> (A)</tspan></text>
<clipPath id="clipc"><rect x="157.3" y="685.3" width="598.2" height="437.8"/></clipPath>
<g clip-path="url(#clipc)">
<path d="M158.5 985.5L166 996.8L177 1006.5L188 1014.8L199 1020.2L209.5 1025L231.4 1032.4L253.2 1038.4L275 1044.4L296.8 1049.8L318.6 1054.2L330 1056.4L351.8 1060.7L373.6 1064.5L395.5 1068.9L417.3 1072.7L439.1 1077.6L445.6 1078.7L451.1 1083.1L457.6 1083.6L462 1081.5L468.5 1088L474 1084.2L480.5 1092.4L487.1 1088L492.5 1088.5L498 1093.5L500 1094.5L510.2 1102.1L515.3 1099.6L523.7 1107.2L533.9 1115.7L539.9 1123.8L542 1128" fill="none" stroke="#000" stroke-width="4.6" stroke-linejoin="round" stroke-linecap="round"/>
<path d="M554.8 1130L556 1121L557.3 1115.7L561.1 1120.8L566.2 1120L574.6 1114L582.3 1114.9L587.4 1104.7L595 1105.5L600.1 1098.7L606 1096.2L610.3 1097.9L623 1092L640 1086.1L646.8 1087.8L662.8 1082.1L679.9 1079.8L695.8 1076.9L701.5 1078.6L708.4 1075.8L719.8 1075.2L731.7 1074.7L732.3 1063.3" fill="none" stroke="#000" stroke-width="4.6" stroke-linejoin="round" stroke-linecap="round"/>
<path d="M732.3 1063.3C732.58 1060.45 733.43 1051.9 734 1046.2C734.57 1040.5 735.13 1034.05 735.7 1029.1C736.27 1024.15 736.63 1021.25 737.4 1016.5C738.17 1011.75 739.25 1005.15 740.3 1000.6C741.35 996.05 742.37 993 743.7 989.2C745.03 985.4 746.5 981.42 748.3 977.8C750.1 974.18 753.47 969.22 754.5 967.5" fill="none" stroke="#000" stroke-width="4.6" stroke-linejoin="round" stroke-linecap="round"/>
</g>
<path d="M158.5 985.66L161 990.34L163.51 993.7L166.01 996.25L168.51 998.49L171.01 1000.77L173.52 1003.08L176.02 1005.34L178.52 1007.49L181.02 1009.48L183.53 1011.27L186.03 1012.87L188.53 1014.32L191.03 1015.63L193.54 1016.81L196.04 1017.9L198.54 1018.9L201.04 1019.85L203.55 1020.74L206.05 1021.59L208.55 1022.39L211.05 1023.16L213.56 1023.88L216.06 1024.58L218.56 1025.23L221.06 1025.86L223.57 1026.46L226.07 1027.03L228.57 1027.58L231.07 1028.1L233.58 1028.61L236.08 1029.1L238.58 1029.58L241.08 1030.05L243.59 1030.51L246.09 1030.96L248.59 1031.4L251.09 1031.83L253.6 1032.25L256.1 1032.67L258.6 1033.07L261.11 1033.48L263.61 1033.87L266.11 1034.26L268.61 1034.64L271.12 1035.02L273.62 1035.39L276.12 1035.76L278.62 1036.12L281.13 1036.48L283.63 1036.83L286.13 1037.18L288.63 1037.53L291.14 1037.88L293.64 1038.22L296.14 1038.57L298.64 1038.91L301.15 1039.25L303.65 1039.59L306.15 1039.93L308.65 1040.26L311.16 1040.6L313.66 1040.93L316.16 1041.26L318.66 1041.59L321.17 1041.92L323.67 1042.24L326.17 1042.56L328.67 1042.88L331.18 1043.19L333.68 1043.5L336.18 1043.8L338.68 1044.1L341.19 1044.4L343.69 1044.69L346.19 1044.98L348.69 1045.26L351.2 1045.53L353.7 1045.8L356.2 1046.06L358.71 1046.32L361.21 1046.57L363.71 1046.81L366.21 1047.05L368.72 1047.27L371.22 1047.49L373.72 1047.71L376.22 1047.91L378.73 1048.11L381.23 1048.29L383.73 1048.47L386.23 1048.64L388.74 1048.81L391.24 1048.97L393.74 1049.12L396.24 1049.27L398.75 1049.42L401.25 1049.56L403.75 1049.7L406.25 1049.84L408.76 1049.98L411.26 1050.12L413.76 1050.26L416.26 1050.41L418.77 1050.55L421.27 1050.71L423.77 1050.86L426.27 1051.02L428.78 1051.19L431.28 1051.36L433.78 1051.55L436.28 1051.74L438.79 1051.94L441.29 1052.15L443.79 1052.37L446.29 1052.61L448.8 1052.86L451.3 1053.12L452.33 1053.14L452.45 1050.18L452.59 1047.21L452.76 1044.23L452.94 1041.24L453.14 1038.24L453.37 1035.24L453.62 1032.23L453.89 1029.22L454.18 1026.2L454.5 1023.17L454.84 1020.14L455.2 1017.11L455.58 1014.08L455.99 1011.05L456.42 1008.01L456.87 1004.97L457.35 1001.93L457.85 998.9L458.38 995.86L458.93 992.83L459.51 989.8L460.11 986.77L460.73 983.74L461.38 980.72L462.06 977.71L462.76 974.7L463.49 971.69L464.24 968.69L465.02 965.7L465.83 962.72L466.67 959.75L467.53 956.78L468.41 953.83L469.33 950.88L470.27 947.95L471.24 945.03L472.24 942.12L473.27 939.22L474.32 936.33L475.4 933.46L476.52 930.61L477.66 927.77L478.83 924.94L480.03 922.14L481.26 919.34L482.52 916.57L483.8 913.82L485.12 911.08L486.47 908.36L487.85 905.67L489.26 902.99L490.7 900.34L492.18 897.7L493.68 895.09L495.22 892.51L496.78 889.95L498.38 887.41L500.02 884.89L501.68 882.41L503.38 879.94L505.11 877.51L506.87 875.1L508.67 872.72L510.49 870.37L512.36 868.05L514.25 865.76L516.18 863.5L518.15 861.27L520.15 859.07L522.18 856.91L524.25 854.77L526.35 852.68L528.49 850.61L530.67 848.58L532.88 846.59L535.12 844.63L537.4 842.7L539.71 840.81L542.06 838.95L544.44 837.13L546.84 835.34L549.28 833.58L551.75 831.86L554.24 830.16L556.76 828.5L559.31 826.87L561.89 825.27L564.49 823.69L567.11 822.15L569.76 820.64L572.43 819.15L575.12 817.7L577.83 816.27L580.57 814.87L583.32 813.49L586.09 812.15L588.88 810.82L591.68 809.53L594.51 808.26L597.34 807.01L600.19 805.79L603.06 804.59L605.94 803.41L608.83 802.26L611.73 801.13L614.64 800.02L617.56 798.94L620.49 797.87L623.42 796.83L626.37 795.81L629.32 794.81L632.27 793.82L635.23 792.86L638.2 791.91L641.16 790.98L644.13 790.07L647.1 789.18L650.07 788.31L653.04 787.45L656.01 786.61L658.98 785.78L661.95 784.97L664.91 784.18L667.88 783.4L670.85 782.64L673.81 781.89L676.77 781.16L679.74 780.45L682.7 779.75L685.66 779.07L688.62 778.4L691.57 777.75L694.53 777.11L697.48 776.49L700.44 775.89L703.39 775.3L706.34 774.72L709.28 774.16L712.23 773.62L715.17 773.09L718.11 772.57L721.05 772.07L723.98 771.59L726.92 771.12L729.85 770.66L732.78 770.22L735.7 769.79L738.62 769.38L741.54 768.98L744.46 768.59L747.37 768.22L750.28 767.86L753.19 767.52" fill="none" stroke="#ff0000" stroke-width="5.4" stroke-linejoin="round" stroke-linecap="round"/>
<path d="M158.5 976.13L161 980.6L163.5 984.78L166 988.57L168.5 991.83L171 994.52L173.5 996.74L176 998.62L178.5 1000.28L181 1001.85L183.5 1003.4L186 1004.93L188.5 1006.42L191 1007.88L193.5 1009.28L196 1010.63L198.5 1011.91L201 1013.12L203.5 1014.25L206 1015.31L208.5 1016.29L211 1017.22L213.5 1018.08L216 1018.89L218.5 1019.65L221 1020.36L223.5 1021.02L226 1021.65L228.5 1022.24L231 1022.81L233.5 1023.34L236 1023.86L238.5 1024.35L241 1024.84L243.5 1025.31L246 1025.77L248.5 1026.22L251 1026.66L253.5 1027.1L256 1027.52L258.5 1027.94L261 1028.34L263.5 1028.74L266 1029.13L268.5 1029.52L271 1029.89L273.5 1030.26L276 1030.63L278.5 1030.98L281 1031.34L283.5 1031.68L286 1032.02L288.5 1032.36L291 1032.69L293.5 1033.02L296 1033.35L298.5 1033.67L301 1033.99L303.5 1034.3L306 1034.62L308.5 1034.93L311 1035.23L313.5 1035.54L316 1035.83L318.5 1036.13L321 1036.42L323.5 1036.71L326 1036.99L328.5 1037.27L331 1037.54L333.5 1037.81L336 1038.07L338.5 1038.33L341 1038.58L343.5 1038.82L346 1039.06L348.5 1039.3L351 1039.53L353.5 1039.75L356 1039.96L358.5 1040.17L361 1040.37L363.5 1040.56L366 1040.75L368.5 1040.93L371 1041.1L373.5 1041.26L376 1041.42L378.5 1041.56L381 1041.7L383.5 1041.84L386 1041.97L388.5 1042.11L391 1042.27L393.5 1042.45L396 1042.66L398.5 1042.91L401 1043.2L403.5 1043.54L406 1043.94L408.5 1044.4L407.98 1043.96L408.54 1041.13L409.12 1038.29L409.7 1035.44L410.31 1032.58L410.92 1029.71L411.55 1026.83L412.19 1023.95L412.85 1021.05L413.52 1018.15L414.21 1015.25L414.91 1012.34L415.63 1009.42L416.36 1006.5L417.11 1003.57L417.87 1000.65L418.65 997.72L419.45 994.78L420.26 991.85L421.09 988.91L421.94 985.98L422.8 983.04L423.68 980.11L424.58 977.17L425.5 974.24L426.43 971.31L427.38 968.38L428.35 965.46L429.34 962.54L430.35 959.63L431.38 956.72L432.43 953.81L433.49 950.92L434.58 948.03L435.69 945.14L436.81 942.27L437.96 939.41L439.13 936.55L440.32 933.7L441.53 930.87L442.76 928.04L444.01 925.23L445.29 922.43L446.59 919.64L447.91 916.86L449.25 914.1L450.61 911.36L452 908.63L453.41 905.91L454.85 903.21L456.3 900.53L457.79 897.86L459.29 895.21L460.82 892.58L462.38 889.97L463.96 887.38L465.56 884.81L467.19 882.26L468.84 879.73L470.52 877.23L472.23 874.74L473.96 872.28L475.72 869.84L477.51 867.43L479.32 865.04L481.16 862.68L483.02 860.34L484.92 858.03L486.84 855.75L488.79 853.49L490.77 851.26L492.77 849.07L494.8 846.9L496.87 844.76L498.96 842.65L501.08 840.57L503.23 838.52L505.41 836.51L507.62 834.53L509.86 832.58L512.13 830.67L514.43 828.79L516.76 826.94L519.12 825.13L521.52 823.36L523.93 821.61L526.38 819.9L528.86 818.23L531.36 816.58L533.88 814.97L536.43 813.38L539.01 811.83L541.6 810.3L544.22 808.81L546.87 807.34L549.53 805.9L552.21 804.48L554.92 803.1L557.64 801.74L560.38 800.4L563.14 799.09L565.91 797.8L568.7 796.54L571.51 795.3L574.33 794.09L577.16 792.89L580.01 791.72L582.87 790.57L585.74 789.43L588.62 788.32L591.51 787.23L594.41 786.15L597.32 785.09L600.24 784.06L603.16 783.03L606.09 782.03L609.02 781.04L611.96 780.06L614.91 779.1L617.86 778.15L620.81 777.22L623.76 776.3L626.71 775.39L629.66 774.49L632.62 773.61L635.57 772.73L638.52 771.87L641.47 771.02L644.42 770.17L647.36 769.34L650.31 768.52L653.26 767.71L656.2 766.91L659.15 766.12L662.09 765.34L665.04 764.57L667.98 763.81L670.92 763.06L673.87 762.32L676.81 761.59L679.75 760.88L682.7 760.17L685.64 759.47L688.58 758.79L691.53 758.11L694.47 757.44L697.41 756.79L700.36 756.15L703.3 755.51L706.25 754.89L709.2 754.27L712.14 753.67L715.09 753.08L718.04 752.49L720.99 751.92L723.94 751.36L726.9 750.81L729.85 750.27L732.8 749.74L735.76 749.21L738.72 748.7L741.68 748.2L744.64 747.71L747.6 747.23L750.57 746.76L753.53 746.3" fill="none" stroke="#0000ff" stroke-width="5.4" stroke-linejoin="round" stroke-linecap="round"/>
<line x1="184.5" y1="709.5" x2="250" y2="709.5" stroke="#000" stroke-width="4.8" stroke-linecap="round"/>
<line x1="184.5" y1="746.9" x2="250" y2="746.9" stroke="#ff0000" stroke-width="4.8" stroke-linecap="round"/>
<line x1="184.5" y1="783.7" x2="250" y2="783.7" stroke="#0000ff" stroke-width="4.8" stroke-linecap="round"/>
<text transform="translate(258.5 719.5) scale(1.028 1)" font-size="28.5">As-deposition</text>
<text x="258.5" y="756.9" font-size="28.5">250<tspan font-family='"WenQuanYi Zen Hei", "Noto Sans CJK SC", sans-serif' font-weight="normal" font-size="29.5" dx="2">&#8451;</tspan></text>
<text x="258.5" y="793.7" font-size="28.5">300<tspan font-family='"WenQuanYi Zen Hei", "Noto Sans CJK SC", sans-serif' font-weight="normal" font-size="29.5" dx="2">&#8451;</tspan></text>
<rect x="157.3" y="685.3" width="598.2" height="439.4" fill="none" stroke="#000" stroke-width="3.5"/>
<line x1="1133.55" y1="1124.6" x2="1133.55" y2="1115.6" stroke="#000" stroke-width="2.8" stroke-linecap="round"/>
<line x1="1233.1" y1="1124.6" x2="1233.1" y2="1115.6" stroke="#000" stroke-width="2.8" stroke-linecap="round"/>
<line x1="1332.65" y1="1124.6" x2="1332.65" y2="1115.6" stroke="#000" stroke-width="2.8" stroke-linecap="round"/>
<line x1="1432.2" y1="1124.6" x2="1432.2" y2="1115.6" stroke="#000" stroke-width="2.8" stroke-linecap="round"/>
<line x1="1531.75" y1="1124.6" x2="1531.75" y2="1115.6" stroke="#000" stroke-width="2.8" stroke-linecap="round"/>
<line x1="1083.78" y1="1124.6" x2="1083.78" y2="1119.7" stroke="#000" stroke-width="2.8" stroke-linecap="round"/>
<line x1="1183.33" y1="1124.6" x2="1183.33" y2="1119.7" stroke="#000" stroke-width="2.8" stroke-linecap="round"/>
<line x1="1282.88" y1="1124.6" x2="1282.88" y2="1119.7" stroke="#000" stroke-width="2.8" stroke-linecap="round"/>
<line x1="1382.42" y1="1124.6" x2="1382.42" y2="1119.7" stroke="#000" stroke-width="2.8" stroke-linecap="round"/>
<line x1="1481.97" y1="1124.6" x2="1481.97" y2="1119.7" stroke="#000" stroke-width="2.8" stroke-linecap="round"/>
<line x1="1581.53" y1="1124.6" x2="1581.53" y2="1119.7" stroke="#000" stroke-width="2.8" stroke-linecap="round"/>
<line x1="1034" y1="1002.5" x2="1043" y2="1002.5" stroke="#000" stroke-width="2.8" stroke-linecap="round"/>
<line x1="1034" y1="896.8" x2="1043" y2="896.8" stroke="#000" stroke-width="2.8" stroke-linecap="round"/>
<line x1="1034" y1="791.1" x2="1043" y2="791.1" stroke="#000" stroke-width="2.8" stroke-linecap="round"/>
<line x1="1034" y1="1055.35" x2="1038.9" y2="1055.35" stroke="#000" stroke-width="2.8" stroke-linecap="round"/>
<line x1="1034" y1="949.65" x2="1038.9" y2="949.65" stroke="#000" stroke-width="2.8" stroke-linecap="round"/>
<line x1="1034" y1="843.95" x2="1038.9" y2="843.95" stroke="#000" stroke-width="2.8" stroke-linecap="round"/>
<line x1="1034" y1="738.25" x2="1038.9" y2="738.25" stroke="#000" stroke-width="2.8" stroke-linecap="round"/>
<text transform="translate(1034 1160.2) scale(0.94 1)" font-size="35.2" text-anchor="middle">-30</text>
<text transform="translate(1133.55 1160.2) scale(0.94 1)" font-size="35.2" text-anchor="middle">-20</text>
<text transform="translate(1233.1 1160.2) scale(0.94 1)" font-size="35.2" text-anchor="middle">-10</text>
<text transform="translate(1332.65 1160.2) scale(0.94 1)" font-size="35.2" text-anchor="middle">0</text>
<text transform="translate(1432.2 1160.2) scale(0.94 1)" font-size="35.2" text-anchor="middle">10</text>
<text transform="translate(1531.75 1160.2) scale(0.94 1)" font-size="35.2" text-anchor="middle">20</text>
<text transform="translate(1631.3 1160.2) scale(0.94 1)" font-size="35.2" text-anchor="middle">30</text>
<text transform="translate(1007.8 698.9) scale(0.94 1)" font-size="35.2" text-anchor="end">8.0x10</text>
<text x="1008.6" y="680.9" font-size="19" text-anchor="start">-3</text>
<text transform="translate(1007.8 804.6) scale(0.94 1)" font-size="35.2" text-anchor="end">6.0x10</text>
<text x="1008.6" y="786.6" font-size="19" text-anchor="start">-3</text>
<text transform="translate(1007.8 910.3) scale(0.94 1)" font-size="35.2" text-anchor="end">4.0x10</text>
<text x="1008.6" y="892.3" font-size="19" text-anchor="start">-3</text>
<text transform="translate(1007.8 1016) scale(0.94 1)" font-size="35.2" text-anchor="end">2.0x10</text>
<text x="1008.6" y="998" font-size="19" text-anchor="start">-3</text>
<text transform="translate(1023 1115.5) scale(0.94 1)" font-size="35.2" text-anchor="end">0.0</text>
<text x="1283" y="1198.8" font-size="36.5">V<tspan font-size="22" dy="14">GS</tspan><tspan dy="-14"> (V)</tspan></text>
<text transform="translate(914.5 981) rotate(-90)" font-size="37.5">I</text>
<text transform="translate(927.7 965.6) rotate(-90)" font-size="22">DS</text>
<text transform="translate(894 937.4) rotate(-90)" font-size="21">1/2</text>
<text transform="translate(911.1 905.2) rotate(-90)" font-size="31">(</text>
<text transform="translate(914.5 890) rotate(-90)" font-size="36">A</text>
<text transform="translate(894 862.7) rotate(-90)" font-size="21">1/2</text>
<text transform="translate(914.5 837.5) rotate(-90)" font-size="31">)</text>
<path d="M1035.5 1109L1585 1109L1595 1108.9L1605 1108.6L1615 1108.1L1622 1107.6L1630 1106.9" fill="none" stroke="#000" stroke-width="4.7" stroke-linejoin="round" stroke-linecap="butt"/>
<path d="M1290 1109.43L1292.5 1109.41L1295 1109.39L1297.5 1109.35L1300 1109.31L1302.5 1109.25L1305 1109.18L1307.5 1109.1L1310 1109.01L1312.5 1108.91L1315 1108.81L1317.5 1108.7L1320 1108.58L1322.5 1108.45L1325 1108.31L1327.5 1108.17L1330 1108.03L1332.5 1107.87L1335 1107.71L1337.5 1107.53L1340 1107.34L1342.5 1107.11L1345 1106.86L1347.5 1106.57L1350 1106.24L1352.5 1105.86L1355 1105.43L1357.5 1104.95L1360 1104.41L1362.5 1103.8L1365 1103.13L1367.5 1102.39L1370 1101.61L1372.5 1100.76L1375 1099.87L1377.5 1098.93L1380 1097.95L1382.5 1096.92L1385 1095.85L1387.5 1094.75L1390 1093.62L1392.5 1092.45L1395 1091.27L1397.5 1090.05L1400 1088.82L1402.5 1087.57L1405 1086.3L1407.5 1085.02L1410 1083.71L1412.5 1082.4L1415 1081.06L1417.5 1079.71L1420 1078.34L1422.5 1076.95L1425 1075.55L1427.5 1074.13L1430 1072.69L1432.5 1071.23L1435 1069.76L1437.5 1068.27L1440 1066.77L1442.5 1065.25L1445 1063.71L1447.5 1062.16L1450 1060.59L1452.5 1059L1455 1057.39L1457.5 1055.77L1460 1054.14L1462.5 1052.48L1465 1050.82L1467.5 1049.13L1470 1047.43L1472.5 1045.72L1475 1043.98L1477.5 1042.24L1480 1040.47L1482.5 1038.7L1485 1036.9L1487.5 1035.1L1490 1033.27L1492.5 1031.44L1495 1029.59L1497.5 1027.72L1500 1025.84L1502.5 1023.94L1505 1022.03L1507.5 1020.11L1510 1018.17L1512.5 1016.22L1515 1014.25L1517.5 1012.27L1520 1010.28L1522.5 1008.27L1525 1006.25L1527.5 1004.22L1530 1002.18L1532.5 1000.12L1535 998.06L1537.5 995.99L1540 993.9L1542.5 991.81L1545 989.71L1547.5 987.6L1550 985.49L1552.5 983.37L1555 981.24L1557.5 979.11L1560 976.98L1562.5 974.84L1565 972.7L1567.5 970.55L1570 968.41L1572.5 966.26L1575 964.11L1577.5 961.97L1580 959.82L1582.5 957.68L1585 955.53L1587.5 953.39L1590 951.26L1592.5 949.13L1595 947L1597.5 944.87L1600 942.76L1602.5 940.65L1605 938.54L1607.5 936.45L1610 934.36L1612.5 932.28L1615 930.21L1617.5 928.15L1620 926.1L1622.5 924.06L1625 922.04L1627.5 920.02L1630 918.02" fill="none" stroke="#ff0000" stroke-width="5.4" stroke-linejoin="round" stroke-linecap="round"/>
<path d="M1035.5 1108.88L1038.01 1108.89L1040.52 1108.9L1043.03 1108.91L1045.53 1108.92L1048.04 1108.93L1050.55 1108.94L1053.06 1108.95L1055.57 1108.95L1058.08 1108.96L1060.58 1108.96L1063.09 1108.97L1065.6 1108.97L1068.11 1108.97L1070.62 1108.98L1073.13 1108.98L1075.64 1108.98L1078.14 1108.98L1080.65 1108.98L1083.16 1108.98L1085.67 1108.98L1088.18 1108.98L1090.69 1108.98L1093.19 1108.97L1095.7 1108.97L1098.21 1108.97L1100.72 1108.97L1103.23 1108.96L1105.74 1108.96L1108.24 1108.96L1110.75 1108.95L1113.26 1108.95L1115.77 1108.94L1118.28 1108.94L1120.79 1108.93L1123.3 1108.93L1125.8 1108.92L1128.31 1108.92L1130.82 1108.91L1133.33 1108.91L1135.84 1108.9L1138.35 1108.89L1140.85 1108.89L1143.36 1108.88L1145.87 1108.88L1148.38 1108.87L1150.89 1108.87L1153.4 1108.86L1155.91 1108.86L1158.41 1108.85L1160.92 1108.85L1163.43 1108.84L1165.94 1108.84L1168.45 1108.83L1170.96 1108.83L1173.46 1108.83L1175.97 1108.82L1178.48 1108.82L1180.99 1108.82L1183.5 1108.81L1186.01 1108.81L1188.51 1108.81L1191.02 1108.81L1193.53 1108.81L1196.04 1108.81L1198.55 1108.81L1201.06 1108.81L1203.57 1108.81L1206.07 1108.81L1208.58 1108.82L1211.09 1108.82L1213.6 1108.82L1216.11 1108.83L1218.62 1108.83L1221.12 1108.84L1223.63 1108.85L1226.14 1108.85L1228.65 1108.86L1231.16 1108.87L1233.67 1108.88L1236.18 1108.89L1238.68 1108.9L1241.19 1108.91L1243.7 1108.93L1246.21 1108.94L1248.72 1108.96L1251.23 1108.97L1253.73 1108.99L1256.24 1109.01L1258.75 1109.03L1261.26 1109.05L1263.77 1109.07L1266.28 1109.08L1268.78 1109.1L1271.29 1109.1L1273.8 1109.1L1276.31 1109.09L1278.82 1109.06L1281.33 1109.02L1283.84 1108.96L1286.34 1108.88L1288.85 1108.78L1291.36 1108.66L1293.87 1108.51L1296.38 1108.33L1298.89 1108.13L1301.39 1107.9L1303.9 1107.64L1306.41 1107.35L1308.92 1107.03L1311.43 1106.69L1313.94 1106.31L1316.45 1105.9L1318.95 1105.46L1321.46 1104.99L1323.97 1104.48L1326.48 1103.93L1328.99 1103.34L1331.5 1102.71L1334 1102.03L1336.51 1101.3L1339.02 1100.51L1341.53 1099.66L1344.04 1098.76L1346.55 1097.79L1349.05 1096.75L1351.56 1095.65L1354.07 1094.47L1356.58 1093.22L1359.09 1091.92L1361.6 1090.55L1364.11 1089.12L1366.61 1087.64L1369.12 1086.11L1371.63 1084.53L1374.14 1082.9L1376.65 1081.23L1379.16 1079.52L1381.66 1077.77L1384.17 1075.99L1386.68 1074.17L1389.19 1072.32L1391.7 1070.42L1394.21 1068.49L1396.72 1066.51L1399.22 1064.49L1401.73 1062.43L1404.24 1060.33L1406.75 1058.18L1409.26 1055.99L1411.77 1053.75L1414.27 1051.47L1416.78 1049.13L1419.29 1046.75L1421.8 1044.32L1424.31 1041.84L1426.82 1039.31L1429.32 1036.74L1431.83 1034.13L1434.34 1031.47L1436.85 1028.78L1439.36 1026.05L1441.87 1023.28L1444.38 1020.49L1446.88 1017.66L1449.39 1014.8L1451.9 1011.92L1454.41 1009.01L1456.92 1006.07L1459.43 1003.12L1461.93 1000.15L1464.44 997.16L1466.95 994.15L1469.46 991.14L1471.97 988.11L1474.48 985.07L1476.99 982.01L1479.49 978.95L1482 975.88L1484.51 972.79L1487.02 969.69L1489.53 966.58L1492.04 963.46L1494.54 960.32L1497.05 957.17L1499.56 954.01L1502.07 950.83L1504.58 947.65L1507.09 944.44L1509.59 941.22L1512.1 937.99L1514.61 934.74L1517.12 931.48L1519.63 928.21L1522.14 924.91L1524.65 921.61L1527.15 918.28L1529.66 914.94L1532.17 911.59L1534.68 908.21L1537.19 904.83L1539.7 901.42L1542.2 898L1544.71 894.56L1547.22 891.1L1549.73 887.63L1552.24 884.15L1554.75 880.65L1557.26 877.14L1559.76 873.63L1562.27 870.1L1564.78 866.56L1567.29 863.01L1569.8 859.46L1572.31 855.9L1574.81 852.33L1577.32 848.76L1579.83 845.18L1582.34 841.61L1584.85 838.03L1587.36 834.44L1589.86 830.86L1592.37 827.28L1594.88 823.7L1597.39 820.13L1599.9 816.55L1602.41 812.99L1604.92 809.42L1607.42 805.86L1609.93 802.31L1612.44 798.77L1614.95 795.24L1617.46 791.71L1619.97 788.2L1622.47 784.7L1624.98 781.21L1627.49 777.73L1630 774.27" fill="none" stroke="#0000ff" stroke-width="5.4" stroke-linejoin="round" stroke-linecap="round"/>
<line x1="1379.3" y1="1128.3" x2="1630.5" y2="774.1" stroke="#00ff00" stroke-width="3.4" stroke-linecap="butt"/>
<line x1="1381.3" y1="1128.3" x2="1630.5" y2="918.7" stroke="#ff00ff" stroke-width="3.4" stroke-linecap="butt"/>
<line x1="1298.7" y1="1056" x2="1366" y2="1112" stroke="#ff0000" stroke-width="3.4" stroke-linecap="butt"/>
<polygon points="1378.3,1123.3 1360.3,1114.7 1368.5,1105.3" fill="#ff0000"/>
<text x="1259" y="1032.7" font-size="29">V<tspan font-size="16" dy="12.6">th</tspan></text>
<line x1="1057" y1="705.5" x2="1121.5" y2="705.5" stroke="#000" stroke-width="4.8" stroke-linecap="round"/>
<line x1="1057" y1="742.4" x2="1121.5" y2="742.4" stroke="#ff0000" stroke-width="4.8" stroke-linecap="round"/>
<line x1="1057" y1="778.8" x2="1121.5" y2="778.8" stroke="#0000ff" stroke-width="4.8" stroke-linecap="round"/>
<text transform="translate(1130 715.5) scale(1.028 1)" font-size="28.5">As-deposition</text>
<text x="1130" y="752.4" font-size="28.5">250<tspan font-family='"WenQuanYi Zen Hei", "Noto Sans CJK SC", sans-serif' font-weight="normal" font-size="29.5" dx="2">&#8451;</tspan></text>
<text x="1130" y="788.8" font-size="28.5">300<tspan font-family='"WenQuanYi Zen Hei", "Noto Sans CJK SC", sans-serif' font-weight="normal" font-size="29.5" dx="2">&#8451;</tspan></text>
<rect x="1034" y="684.5" width="597.3" height="440.1" fill="none" stroke="#000" stroke-width="3.5"/>
</svg>
</body></html>
